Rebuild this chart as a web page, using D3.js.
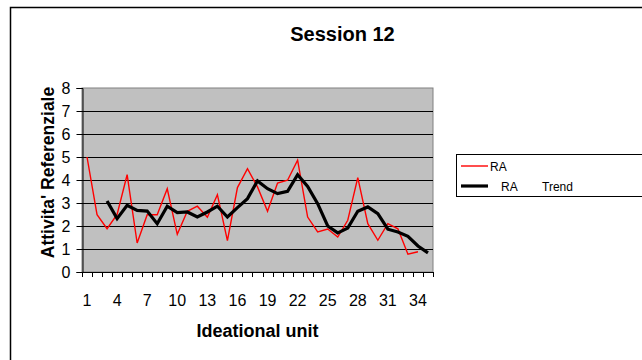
<!DOCTYPE html>
<html>
<head>
<meta charset="utf-8">
<script src="https://cdn.jsdelivr.net/npm/d3@7"></script>
<style>
  html, body { margin: 0; padding: 0; background: #fff; }
  svg { display: block; font-family: "Liberation Sans", Arial, sans-serif; }
</style>
</head>
<body>
<svg id="chart" width="642" height="360"></svg>
<script>
// ---- data ----
const categories = d3.range(1, 36); // ideational units 1..35
const raValues = [5.0, 2.49, 1.88, 2.5, 4.23, 1.26, 2.49, 2.49, 3.62, 1.64,
                  2.64, 2.86, 2.38, 3.36, 1.36, 3.67, 4.49, 3.7, 2.64, 3.87,
                  3.99, 4.86, 2.39, 1.74, 1.87, 1.52, 2.25, 4.1, 2.1, 1.38,
                  2.1, 1.88, 0.77, 0.88];
const trendValues = [null, null, 3.09, 2.32, 2.9, 2.68, 2.65, 2.1, 2.86, 2.58,
                     2.61, 2.39, 2.61, 2.86, 2.39, 2.8, 3.19, 3.96, 3.62, 3.41,
                     3.51, 4.23, 3.72, 2.97, 2.0, 1.7, 1.91, 2.64, 2.83, 2.54,
                     1.86, 1.74, 1.55, 1.13, 0.83];
const xTickLabels = ["1","4","7","10","13","16","19","22","25","28","31","34"];
const yTicks = [0,1,2,3,4,5,6,7,8];
const titleText = "Session 12";
const xTitle = "Ideational unit";
const yTitle = "Attivita' Referenziale";
const seriesNames = ["RA", "RA", "Trend"];

// ---- layout ----
const svg = d3.select("#chart");
const plot = {left: 82, top: 88, right: 433, bottom: 272};

svg.append("rect").attr("x", 0).attr("y", 0).attr("width", 642).attr("height", 360).attr("fill", "#fff");
// outer chart frame (extends beyond the view on right / bottom)
svg.append("rect").attr("x", 10.5).attr("y", 7.5).attr("width", 800).attr("height", 500)
  .attr("fill", "none").attr("stroke", "#000").attr("stroke-width", 1.5);

const x = d3.scaleBand().domain(categories).range([plot.left, plot.right]).paddingInner(0).paddingOuter(0);
const y = d3.scaleLinear().domain([0, 8]).range([plot.bottom, plot.top]);

// plot area
svg.append("rect").attr("x", plot.left).attr("y", plot.top)
  .attr("width", plot.right - plot.left).attr("height", plot.bottom - plot.top)
  .attr("fill", "#C0C0C0").attr("stroke", "#808080").attr("stroke-width", 1);

// gridlines
svg.append("g").selectAll("line").data(yTicks.filter(v => v > 0 && v < 8)).join("line")
  .attr("x1", plot.left).attr("x2", plot.right)
  .attr("y1", d => Math.round(y(d)) + 0.5).attr("y2", d => Math.round(y(d)) + 0.5)
  .attr("stroke", "#000").attr("stroke-width", 1);

// y axis
const yAxis = d3.axisLeft(y).tickValues(yTicks).tickSize(6).tickPadding(6).tickFormat(d3.format("d"));
const gy = svg.append("g").attr("transform", `translate(${plot.left + 0.5},0)`).call(yAxis);
gy.select(".domain").attr("stroke", "#000");
gy.selectAll(".tick line").attr("stroke", "#000");
gy.selectAll("text").attr("font-size", 16).attr("fill", "#000")
  .attr("font-family", "Liberation Sans, Arial, sans-serif");

// x axis: line, ticks between categories, labels every 3rd category
const gx = svg.append("g");
gx.append("line").attr("x1", plot.left).attr("x2", plot.right)
  .attr("y1", plot.bottom + 0.5).attr("y2", plot.bottom + 0.5).attr("stroke", "#000");
const boundaries = categories.map(c => x(c)).concat([x(categories[categories.length - 1]) + x.bandwidth()]);
gx.selectAll("line.tk").data(boundaries).join("line").attr("class", "tk")
  .attr("x1", d => Math.round(d) + 0.5).attr("x2", d => Math.round(d) + 0.5)
  .attr("y1", plot.bottom).attr("y2", plot.bottom + 5).attr("stroke", "#000");
gx.selectAll("text").data(xTickLabels).join("text")
  .attr("x", d => x(+d) + x.bandwidth() / 2).attr("y", 306)
  .attr("text-anchor", "middle").attr("font-size", 16).attr("fill", "#000").text(d => d);

// series lines
const line = d3.line().defined(d => d.v != null)
  .x(d => x(d.c) + x.bandwidth() / 2).y(d => y(d.v));
svg.append("path").datum(raValues.map((v, i) => ({c: categories[i], v})))
  .attr("d", line).attr("fill", "none").attr("stroke", "#FF0000").attr("stroke-width", 1.4);
svg.append("path").datum(trendValues.map((v, i) => ({c: categories[i], v})))
  .attr("d", line).attr("fill", "none").attr("stroke", "#000").attr("stroke-width", 3.2)
  .attr("stroke-linejoin", "miter");

// titles
svg.append("text").attr("x", 342.5).attr("y", 41).attr("text-anchor", "middle")
  .attr("font-size", 20).attr("font-weight", "bold").text(titleText);
svg.append("text").attr("x", (plot.left + plot.right) / 2).attr("y", 337).attr("text-anchor", "middle")
  .attr("font-size", 18).attr("font-weight", "bold").text(xTitle);
svg.append("text").attr("transform", "translate(54,172.5) rotate(-90)").attr("text-anchor", "middle")
  .attr("font-size", 17.5).attr("font-weight", "bold").text(yTitle);

// legend
const lg = svg.append("g");
lg.append("rect").attr("x", 456.5).attr("y", 154.5).attr("width", 300).attr("height", 42)
  .attr("fill", "#fff").attr("stroke", "#000").attr("stroke-width", 1);
lg.append("line").attr("x1", 461).attr("x2", 488).attr("y1", 166).attr("y2", 166)
  .attr("stroke", "#FF0000").attr("stroke-width", 1.4);
lg.append("text").attr("x", 490).attr("y", 170.5).attr("font-size", 12).text(seriesNames[0]);
lg.append("line").attr("x1", 461).attr("x2", 488).attr("y1", 186).attr("y2", 186)
  .attr("stroke", "#000").attr("stroke-width", 3.2);
lg.append("text").attr("x", 501).attr("y", 190.5).attr("font-size", 12).text(seriesNames[1]);
lg.append("text").attr("x", 542).attr("y", 190.5).attr("font-size", 12).text(seriesNames[2]);
</script>
</body>
</html>
